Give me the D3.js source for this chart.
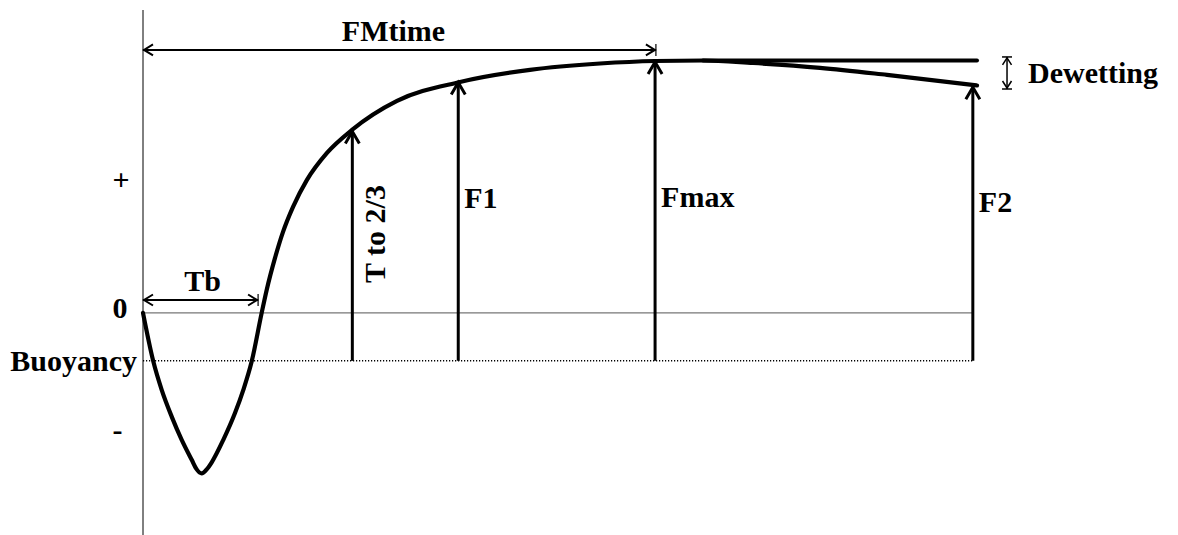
<!DOCTYPE html>
<html><head><meta charset="utf-8">
<script src="https://cdn.jsdelivr.net/npm/d3@7"></script>
<style>
html,body{margin:0;padding:0;background:#fff;}
svg{display:block;}
text{font-family:"Liberation Serif","Times New Roman",serif;font-weight:bold;fill:#000;}
</style></head>
<body>
<script>
// ---- data ----
const curveT = [0,0.124,0.224,0.344,0.464,0.584,0.644,0.704,0.764,0.824,0.963,1.103,1.203,1.303,1.423,1.483,1.583,1.679,1.799,1.966,2.206,2.506,3.046,3.801,4.640,5.480,6.139,6.715,7.314,8.118,8.921,10.0];
const curveF = [0,-1.93,-3.05,-4.11,-5.03,-5.82,-6.20,-6.36,-6.20,-5.92,-5.03,-3.97,-3.05,-1.93,0,0.91,2.18,3.21,4.20,5.27,6.34,7.25,8.40,9.15,9.63,9.88,9.98,10.0,9.90,9.71,9.43,9.01];
const plateauT = [6.715, 10.0];
const plateauF = [10.0, 10.0];
const buoyancy = -1.9;
const arrowNames = ["T to 2/3","F1","Fmax","F2"];
const arrowT = [2.51, 3.78, 6.14, 9.95];
const arrowF = [7.25, 9.19, 10.0, 9.0];
const fmTimeSpan = [0, 6.15];
const fmTimeLevel = 10.42;
const tbSpan = [0, 1.38];
const tbLevel = 0.51;
const dewetT = 10.36;
const dewetF = [10.14, 8.87];
const yLabels = ["+","0","Buoyancy","-"];
const yLabelF = [5.2, 0, buoyancy, -4.75];

// ---- scales ----
const W = 1178, H = 535;
const x = d3.scaleLinear().domain([0,10]).range([143,977]);
const y = d3.scaleLinear().domain([-8.8,12]).range([535,10]);

const svg = d3.select("body").append("svg").attr("width",W).attr("height",H);

// vertical axis
svg.append("line").attr("x1",x(0)).attr("x2",x(0)).attr("y1",y(12)).attr("y2",y(-8.8))
  .attr("stroke","#000").attr("stroke-width",1);
// zero line
svg.append("line").attr("x1",x(0)).attr("x2",x(arrowT[3])).attr("y1",y(0)).attr("y2",y(0))
  .attr("stroke","#777").attr("stroke-width",1.2);
// buoyancy dotted line
svg.append("line").attr("x1",x(0)).attr("x2",x(arrowT[3])).attr("y1",y(buoyancy)).attr("y2",y(buoyancy))
  .attr("stroke","#000").attr("stroke-width",1.5).attr("stroke-dasharray","1.2,1.8");

// curve
const pts = curveT.map((t,i)=>[t,curveF[i]]);
const line = d3.line().x(d=>x(d[0])).y(d=>y(d[1])).curve(d3.curveMonotoneX);
svg.append("path").attr("d",line(pts)).attr("fill","none").attr("stroke","#000").attr("stroke-width",4.2)
  .attr("stroke-linejoin","round").attr("stroke-linecap","round");
// plateau line
svg.append("path").attr("d",d3.line().x(d=>x(d[0])).y(d=>y(d[1]))(plateauT.map((t,i)=>[t,plateauF[i]])))
  .attr("fill","none").attr("stroke","#000").attr("stroke-width",4).attr("stroke-linecap","round");

function chevron(g,px,py,dir,len,half,sw){
  let d;
  if(dir==="up") d=`M${px-half},${py+len}L${px},${py}L${px+half},${py+len}`;
  if(dir==="down") d=`M${px-half},${py-len}L${px},${py}L${px+half},${py-len}`;
  if(dir==="left") d=`M${px+len},${py-half}L${px},${py}L${px+len},${py+half}`;
  if(dir==="right") d=`M${px-len},${py-half}L${px},${py}L${px-len},${py+half}`;
  g.append("path").attr("d",d).attr("fill","none").attr("stroke","#000").attr("stroke-width",sw)
   .attr("stroke-linejoin","miter");
}
// vertical arrows
arrowT.forEach((t,i)=>{
  const px = x(t);
  svg.append("line").attr("x1",px).attr("x2",px).attr("y1",y(buoyancy)).attr("y2",y(arrowF[i])+2)
    .attr("stroke","#000").attr("stroke-width",3);
  chevron(svg,px,y(arrowF[i])+1.5,"up",12,7,3);
});

// horizontal span arrows
function hArrow(span,level,sw){
  const y0 = y(level), xa = x(span[0]), xb = x(span[1]);
  svg.append("line").attr("x1",xa).attr("x2",xb).attr("y1",y0).attr("y2",y0).attr("stroke","#000").attr("stroke-width",sw);
  chevron(svg,xa+1,y0,"left",9,5.5,sw);
  chevron(svg,xb-1,y0,"right",9,5.5,sw);
  svg.append("line").attr("x1",xb).attr("x2",xb).attr("y1",y0-6).attr("y2",y0+6).attr("stroke","#000").attr("stroke-width",1.2);
}
hArrow(fmTimeSpan,fmTimeLevel,2);
hArrow(tbSpan,tbLevel,2);

// Dewetting double arrow
{
  const px = x(dewetT), ya = y(dewetF[0]), yb = y(dewetF[1]);
  svg.append("line").attr("x1",px).attr("x2",px).attr("y1",ya).attr("y2",yb).attr("stroke","#000").attr("stroke-width",1.5);
  svg.append("line").attr("x1",px-5).attr("x2",px+5).attr("y1",ya).attr("y2",ya).attr("stroke","#000").attr("stroke-width",1.5);
  svg.append("line").attr("x1",px-5).attr("x2",px+5).attr("y1",yb).attr("y2",yb).attr("stroke","#000").attr("stroke-width",1.5);
  chevron(svg,px,ya+1,"up",7,4.5,1.5);
  chevron(svg,px,yb-1,"down",7,4.5,1.5);
}

const fs = 30;
// y-axis labels
const yLabX = [121,120,137,117.5];
const yLabDy = [8,5,10,7];
yLabels.forEach((s,i)=>{
  svg.append("text").attr("x",yLabX[i]).attr("y",y(yLabelF[i])+yLabDy[i])
    .attr("text-anchor", i===2?"end":"middle").attr("font-size",fs).text(s);
});

// span labels
svg.append("text").attr("x",(x(fmTimeSpan[0])+x(fmTimeSpan[1]))/2-6).attr("y",y(fmTimeLevel)-9)
  .attr("text-anchor","middle").attr("font-size",fs).text("FMtime");
svg.append("text").attr("x",(x(tbSpan[0])+x(tbSpan[1]))/2+2).attr("y",y(tbLevel)-9)
  .attr("text-anchor","middle").attr("font-size",fs).text("Tb");
svg.append("text").attr("x",x(dewetT)+21).attr("y",y(9.5)+10)
  .attr("font-size",fs).text("Dewetting");

// arrow labels
svg.append("text").attr("transform",`translate(${x(arrowT[0])+33},${234}) rotate(-90)`)
  .attr("text-anchor","middle").attr("font-size",fs).text(arrowNames[0]);
const labY = [0,208,207,211.5];
[1,2,3].forEach(i=>{
  svg.append("text").attr("x",x(arrowT[i])+6).attr("y",labY[i]).attr("font-size",fs).text(arrowNames[i]);
});
</script>
</body></html>
